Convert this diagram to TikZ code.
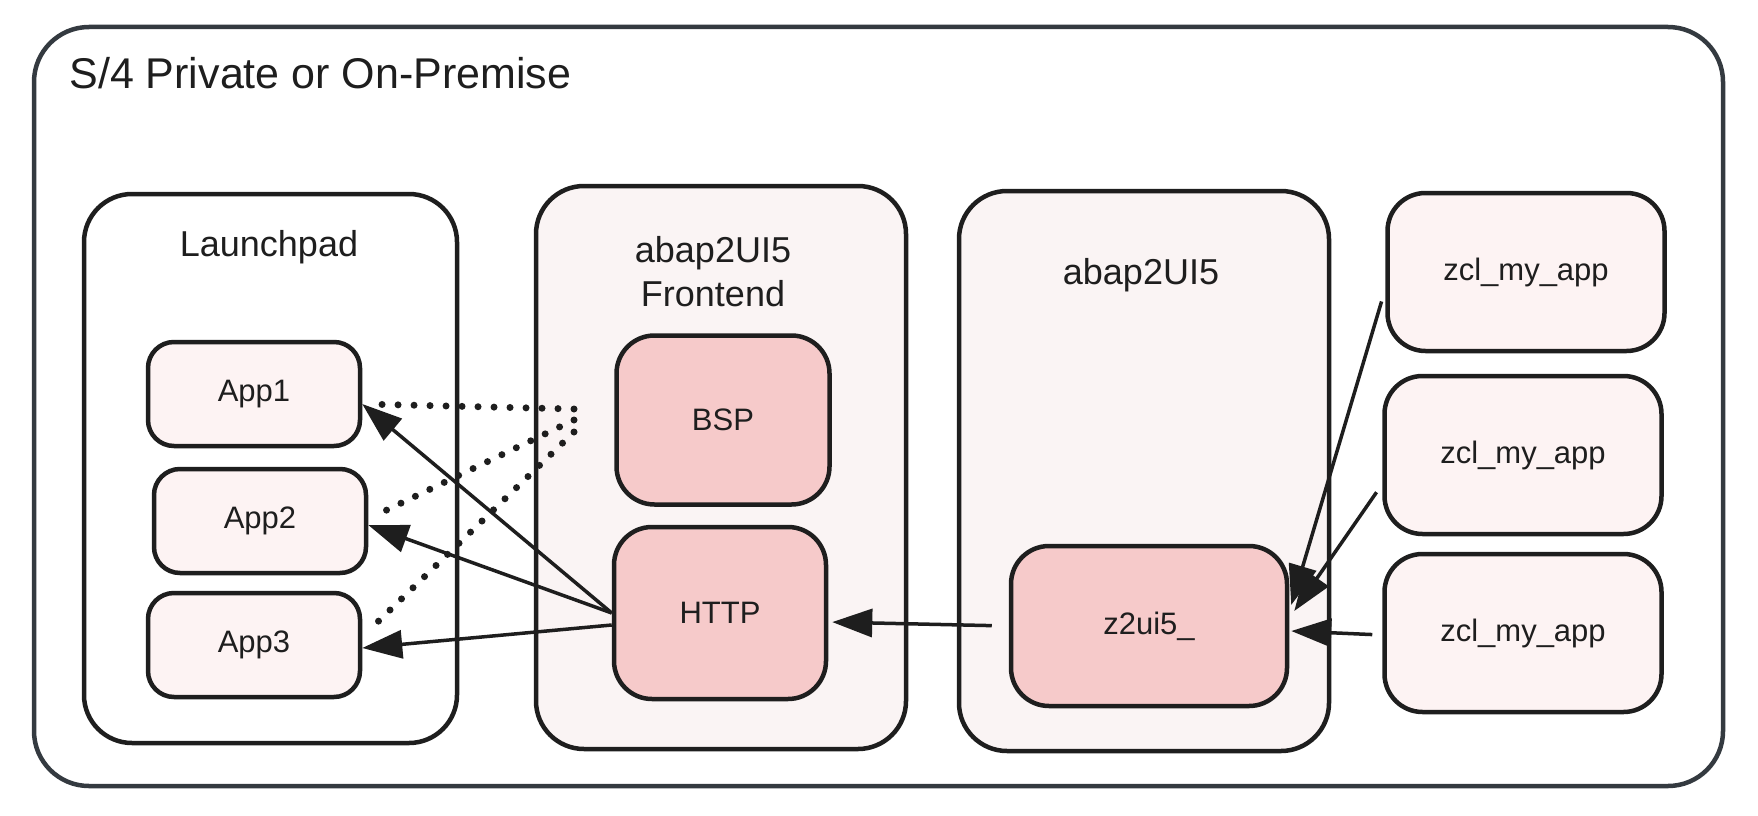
\documentclass[tikz,border=0pt]{standalone}
\usepackage{fontspec}
\setmainfont{Liberation Sans}
\usetikzlibrary{arrows.meta}

\definecolor{frameC}{HTML}{343A40}
\definecolor{ink}{HTML}{1E1E1E}
\definecolor{coreC}{RGB}{246,202,202}
\definecolor{paleC}{RGB}{250,244,244}
\definecolor{appC}{RGB}{253,243,243}

\begin{document}
\begin{tikzpicture}[x=1pt,y=-1pt,
  frame/.style={draw=frameC,line width=4.5pt,rounded corners=55pt},
  group/.style={draw=ink,line width=4.5pt,rounded corners=48pt},
  appbox/.style={draw=ink,fill=appC,line width=4.5pt,rounded corners=26pt,
    minimum width=212pt,minimum height=104pt,inner sep=0pt,
    text=ink,font=\fontsize{31}{36}\selectfont},
  clsbox/.style={appbox,minimum width=277pt,minimum height=158pt,rounded corners=38pt},
  corebox/.style={appbox,fill=coreC,rounded corners=38pt},
  head/.style={text=ink,align=center,font=\fontsize{36}{44}\selectfont},
  arr/.style={draw=ink,line width=3.5pt,-{Triangle[length=40pt,width=28pt]}},
  dots/.style={draw=ink,line width=7pt,line cap=round,dash pattern=on 0pt off 16pt}]
\useasboundingbox (0,0) rectangle (1758,816);

% outer frame
\draw[frame] (34,27) rectangle (1723,786);
\node[anchor=west,text=ink,font=\fontsize{43}{50}\selectfont] (title) at (66,73) {S/4 Private or On-Premise};

% groups
\draw[group,fill=white] (84,194) rectangle (457,743);
\node[head] (launchpad) at (269,247) {Launchpad};
\draw[group,fill=paleC] (536,186) rectangle (906,749);
\node[head] (frontend) at (713,272) {abap2UI5\\Frontend};
\draw[group,fill=paleC] (959,191) rectangle (1329,751);
\node[head] (backend) at (1141,275) {abap2UI5};

% launchpad apps
\node[appbox] (app1) at (254,394) {App1};
\node[appbox] (app2) at (260,521) {App2};
\node[appbox] (app3) at (254,645) {App3};

% frontend
\node[corebox,minimum width=213pt,minimum height=169pt] (bsp) at (723,420) {BSP};
\node[corebox,minimum width=212pt,minimum height=172pt] (http) at (720,613) {HTTP};

% backend
\node[corebox,minimum width=276pt,minimum height=160pt] (z2ui5) at (1149,626) {z2ui5\_};
\node[clsbox] (zcl1) at (1526,272) {zcl\_my\_app};
\node[clsbox] (zcl2) at (1523,455) {zcl\_my\_app};
\node[clsbox] (zcl3) at (1523,633) {zcl\_my\_app};

% dotted links
\coordinate (d1) at (574,409);
\coordinate (d2) at (574,420);
\coordinate (d3) at (574,432);
\draw[dots,shorten >=8pt] (d1) -- ([yshift=-10pt]app1.east);
\draw[dots,shorten >=8pt] (d2) -- ([xshift=4pt,yshift=4pt]app2.east);
\draw[dots,shorten >=12pt] (d3) -- ([xshift=4pt,yshift=12pt]app3.east);

% arrows
\draw[arr] (http.west) -- ([yshift=-10pt]app1.east);
\draw[arr] (http.west) -- ([yshift=-4pt]app2.east);
\draw[arr] ([yshift=-12pt]http.west) -- ([yshift=-3pt]app3.east);
\draw[arr,shorten <=17pt,shorten >=4pt] (z2ui5.west) -- ([yshift=-9pt]http.east);
\draw[arr,shorten <=13pt] ([yshift=-17pt]zcl1.west) -- ([xshift=2pt,yshift=21pt]z2ui5.east);
\draw[arr,shorten <=10pt] ([yshift=-29pt]zcl2.west) -- ([xshift=5pt,yshift=15pt]z2ui5.east);
\draw[arr,shorten <=10pt] ([yshift=-2pt]zcl3.west) -- ([xshift=2pt,yshift=-5pt]z2ui5.east);
\end{tikzpicture}
\end{document}
